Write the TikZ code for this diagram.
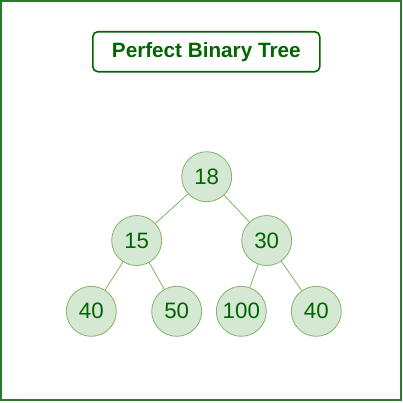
\documentclass[tikz,border=0pt]{standalone}
\usepackage{fontspec}
\setmainfont{Liberation Sans}
\definecolor{outerg}{RGB}{45,122,45}
\definecolor{darkg}{RGB}{0,102,0}
\definecolor{nodefill}{HTML}{D5E8D4}
\definecolor{nodeline}{HTML}{82B366}
\begin{document}
\begin{tikzpicture}[x=1pt,y=-1pt,
  treenode/.style={circle,draw=nodeline,fill=nodefill,line width=0.8pt,minimum size=50pt,inner sep=0pt,text=darkg,font=\fontsize{22.3}{26}\selectfont},
  titlebox/.style={draw=darkg,rounded corners=5pt,line width=1.6pt,minimum width=227pt,minimum height=40pt,inner sep=0pt,text=darkg,font=\fontsize{20.7}{24}\selectfont\bfseries},
  edge/.style={draw=nodeline,line width=0.8pt}]
\useasboundingbox (0,0) rectangle (403,402);
\draw[outerg,line width=2pt] (1,1) rectangle (401,400);
\node[titlebox] (title) at (206.3,51.7) {Perfect Binary Tree};
\node[treenode] (n18) at (206.7,176.7) {18};
\node[treenode] (n15) at (136.7,240.5) {15};
\node[treenode] (n30) at (266.7,240.5) {30};
\node[treenode] (n40a) at (91.3,311.3) {40};
\node[treenode] (n50) at (176.7,311.3) {50};
\node[treenode] (n100) at (241.3,311.3) {100};
\node[treenode] (n40b) at (316.3,311.3) {40};
\draw[edge] (n18) -- (n15);
\draw[edge] (n18) -- (n30);
\draw[edge] (n15) -- (n40a);
\draw[edge] (n15) -- (n50);
\draw[edge] (n30) -- (n100);
\draw[edge] (n30) -- (n40b);
\end{tikzpicture}
\end{document}
